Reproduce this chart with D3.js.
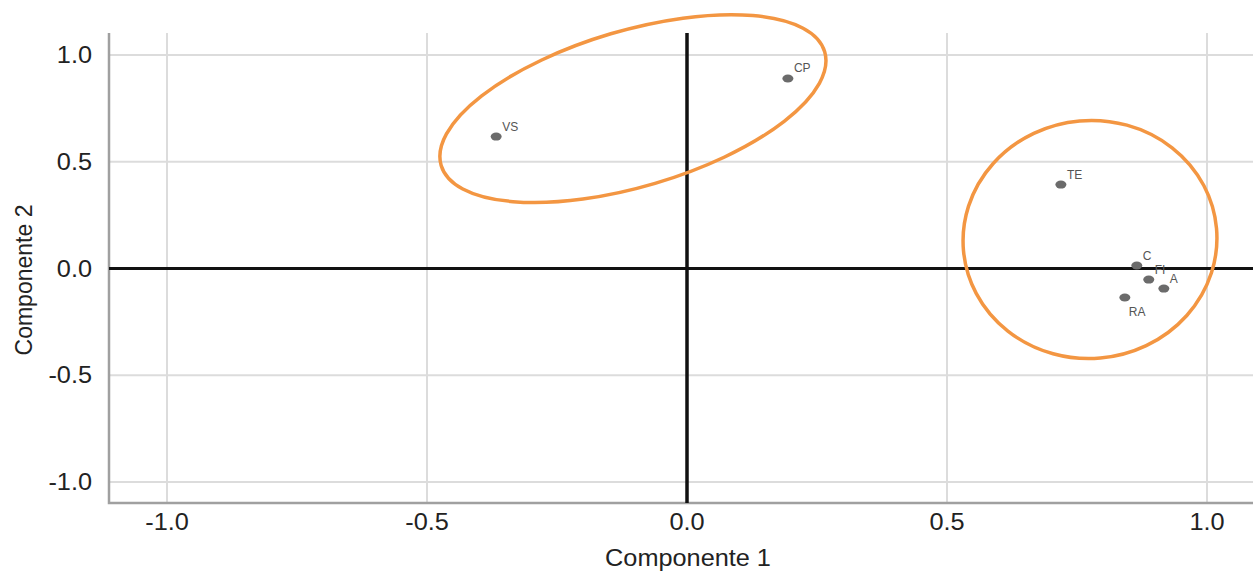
<!DOCTYPE html>
<html>
<head>
<meta charset="utf-8">
<script src="https://cdn.jsdelivr.net/npm/d3@7"></script>
<style>
  body { margin: 0; background: #fff; }
  svg text { font-family: "Liberation Sans", Arial, sans-serif; }
  .grid line { stroke: #dcdcdc; stroke-width: 2; }
  .tickLabel { font-size: 23px; fill: #222; }
  .axisTitle { font-size: 23px; fill: #222; }
  .pointLabel { font-size: 12px; fill: #555; }
</style>
</head>
<body>
<div class="chart"></div>
<script>
// component loadings
var varNames = ["VS", "CP", "TE", "C", "FI", "A", "RA"];
var comp1 = [-0.367, 0.194, 0.719, 0.865, 0.888, 0.917, 0.842];
var comp2 = [0.618, 0.890, 0.393, 0.014, -0.052, -0.094, -0.136];
var labelBelow = ["RA"];

var xTicks = [-1.0, -0.5, 0.0, 0.5, 1.0];
var yTicks = [-1.0, -0.5, 0.0, 0.5, 1.0];

// orange groupings (centres in component units)
var groupCx = [-0.104, 0.775];
var groupCy = [0.749, 0.136];

var width = 1253, height = 572;
var plot = { left: 109, right: 1253, top: 33, bottom: 503 };

var svg = d3.select(".chart")
            .append("svg")
            .attr("width", width)
            .attr("height", height);

var scaleX = d3.scaleLinear().domain([-1, 1]).range([167, 1207]);
var scaleY = d3.scaleLinear().domain([-1, 1]).range([482, 55]);

function fmt(d) { return d.toFixed(1); } // plain hyphen for negatives, like the original

// gridlines
var grid = svg.append("g").attr("class", "grid");
grid.selectAll(".v").data(xTicks).enter().append("line")
    .attr("x1", function(d) { return scaleX(d); })
    .attr("x2", function(d) { return scaleX(d); })
    .attr("y1", plot.top).attr("y2", plot.bottom);
grid.selectAll(".h").data(yTicks).enter().append("line")
    .attr("x1", plot.left).attr("x2", plot.right)
    .attr("y1", function(d) { return scaleY(d); })
    .attr("y2", function(d) { return scaleY(d); });

// axes frame (left + bottom)
svg.append("path")
   .attr("d", "M" + plot.left + "," + plot.top + "V" + plot.bottom + "H" + plot.right)
   .attr("fill", "none")
   .attr("stroke", "#a0a0a0")
   .attr("stroke-width", 2.5);

// tick labels
svg.selectAll(".xt").data(xTicks).enter().append("text")
   .attr("class", "tickLabel")
   .attr("text-anchor", "middle")
   .attr("transform", function(d) { return "translate(" + scaleX(d) + ",530) scale(1.1,1)"; })
   .text(function(d) { return fmt(d); });

svg.selectAll(".yt").data(yTicks).enter().append("text")
   .attr("class", "tickLabel")
   .attr("text-anchor", "end")
   .attr("transform", function(d) { return "translate(92," + (scaleY(d) + 8) + ") scale(1.1,1)"; })
   .text(function(d) { return fmt(d); });

// axis titles
svg.append("text")
   .attr("class", "axisTitle")
   .attr("text-anchor", "middle")
   .attr("transform", "translate(688,566) scale(1.1,1)")
   .text("Componente 1");

svg.append("text")
   .attr("class", "axisTitle")
   .attr("text-anchor", "middle")
   .attr("transform", "translate(32,280) rotate(-90)")
   .text("Componente 2");

// zero reference lines
svg.append("line")
   .attr("x1", plot.left).attr("x2", plot.right)
   .attr("y1", scaleY(0)).attr("y2", scaleY(0))
   .attr("stroke", "#111").attr("stroke-width", 3);
svg.append("line")
   .attr("x1", scaleX(0)).attr("x2", scaleX(0))
   .attr("y1", plot.top).attr("y2", plot.bottom)
   .attr("stroke", "#111").attr("stroke-width", 3.5);

// points
var data = varNames.map(function(n, i) { return { name: n, c1: comp1[i], c2: comp2[i] }; });

svg.selectAll(".pt").data(data).enter().append("ellipse")
   .attr("cx", function(d) { return scaleX(d.c1); })
   .attr("cy", function(d) { return scaleY(d.c2); })
   .attr("rx", 5.5).attr("ry", 4)
   .attr("fill", "#6b6b6b");

svg.selectAll(".pl").data(data).enter().append("text")
   .attr("class", "pointLabel")
   .attr("x", function(d) { return scaleX(d.c1) + (labelBelow.indexOf(d.name) >= 0 ? 4 : 6); })
   .attr("y", function(d) { return scaleY(d.c2) + (labelBelow.indexOf(d.name) >= 0 ? 18 : -6); })
   .text(function(d) { return d.name; });

// orange group ellipses
var ellipseStyle = [ { rx: 200, ry: 78, angle: -16.5 }, { rx: 127, ry: 119, angle: -5 } ];
svg.selectAll(".grp").data(groupCx).enter().append("ellipse")
   .attr("transform", function(d, i) {
      return "translate(" + scaleX(d) + "," + scaleY(groupCy[i]) + ") rotate(" + ellipseStyle[i].angle + ")";
   })
   .attr("rx", function(d, i) { return ellipseStyle[i].rx; })
   .attr("ry", function(d, i) { return ellipseStyle[i].ry; })
   .attr("fill", "none")
   .attr("stroke", "#f39642")
   .attr("stroke-width", 3.5);
</script>
</body>
</html>
